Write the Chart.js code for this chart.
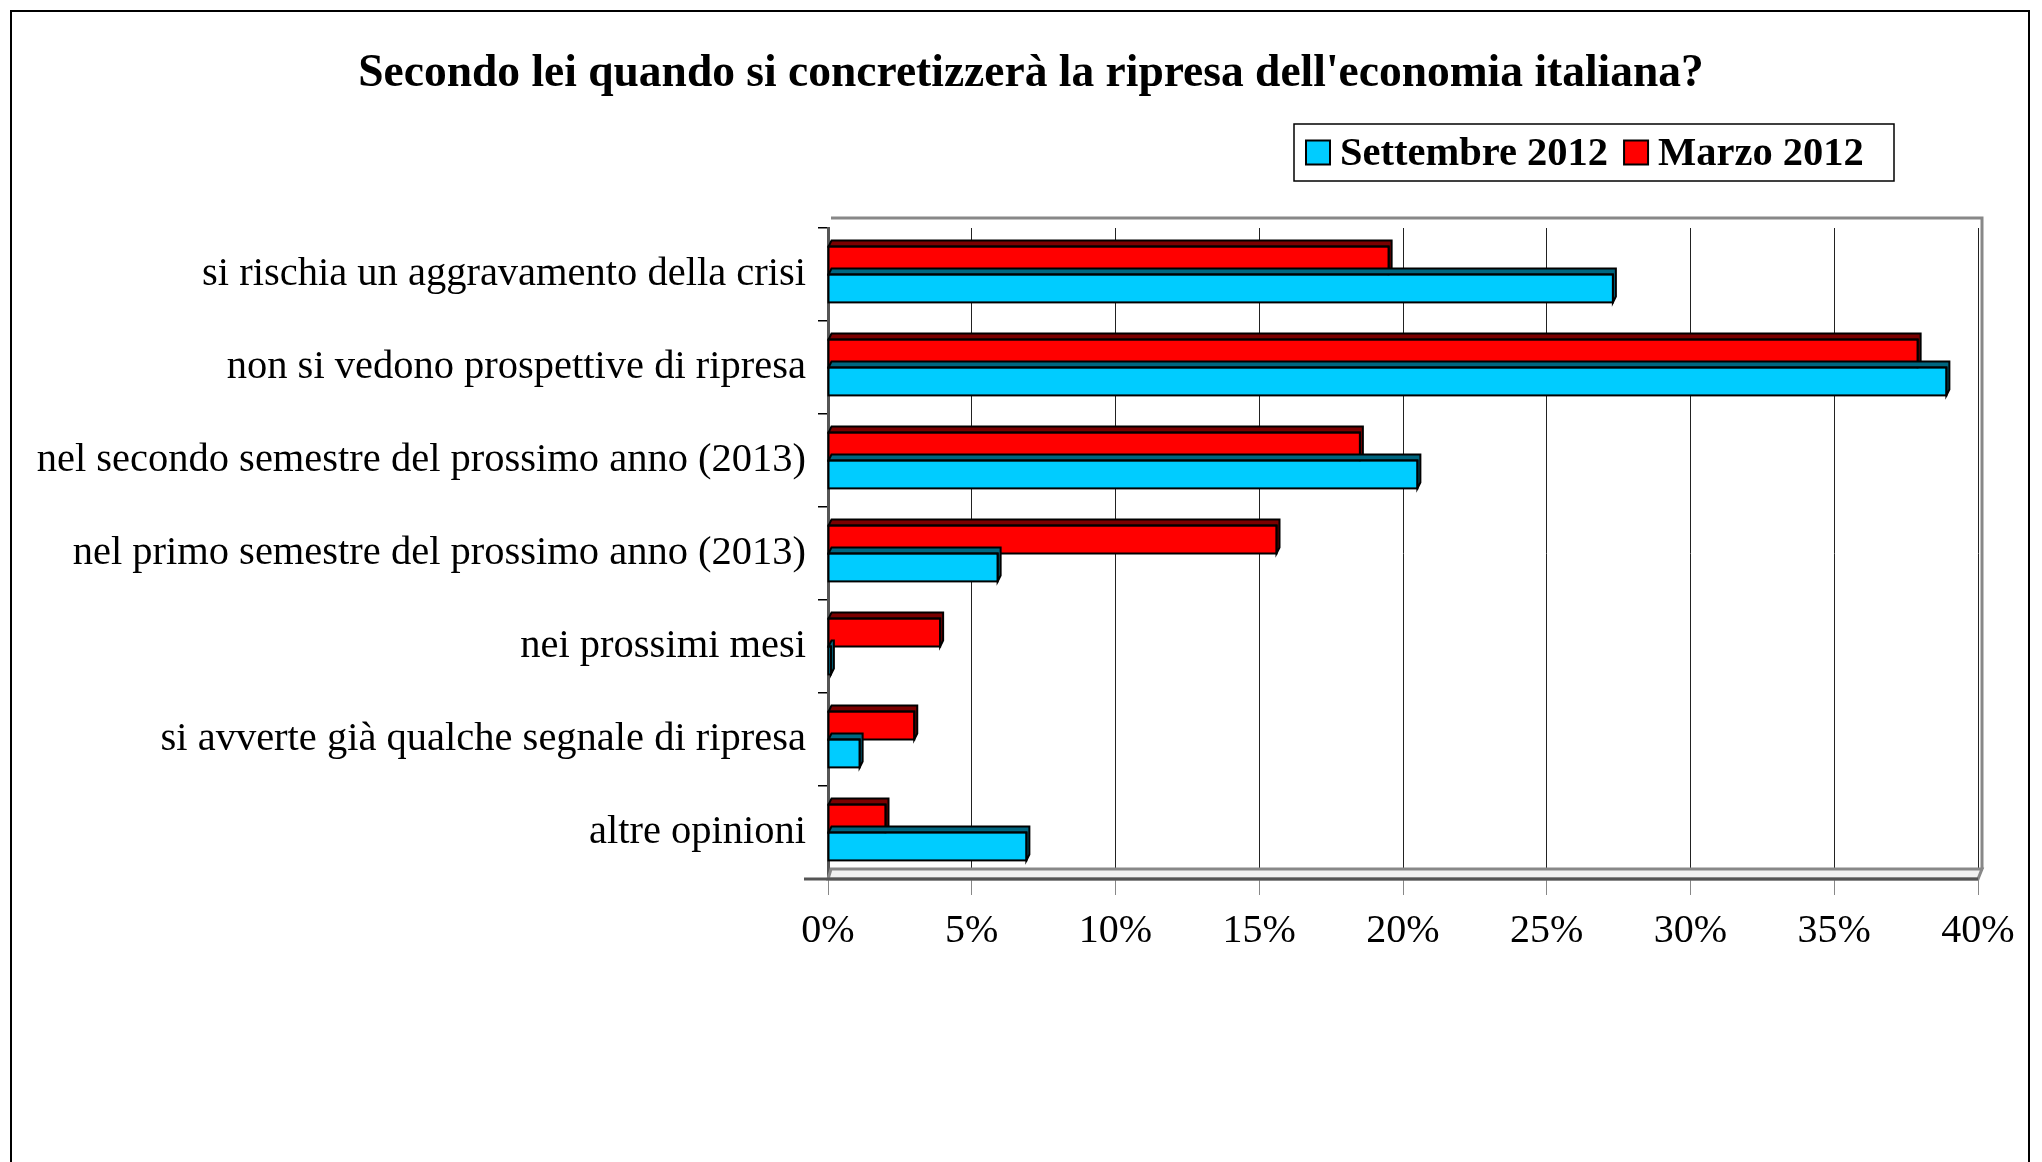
<!DOCTYPE html>
<html>
<head>
<meta charset="utf-8">
<script src="https://cdn.jsdelivr.net/npm/chart.js@4/dist/chart.umd.min.js"></script>
<style>
  html, body { margin: 0; padding: 0; background: #fff; }
  #wrap { width: 2042px; height: 1162px; }
</style>
</head>
<body>
<div id="wrap"><canvas id="c" width="2042" height="1162"></canvas></div>
<script>
const categories = [
    'si rischia un aggravamento della crisi',
    'non si vedono prospettive di ripresa',
    'nel secondo semestre del prossimo anno (2013)',
    'nel primo semestre del prossimo anno (2013)',
    'nei prossimi mesi',
    'si avverte già qualche segnale di ripresa',
    'altre opinioni'
];
const settembre2012 = [27.3, 38.9, 20.5, 5.9, 0.1, 1.1, 6.9];
const marzo2012 = [19.5, 37.9, 18.5, 15.6, 3.9, 3.0, 2.0];
const xTickValues = [0, 5, 10, 15, 20, 25, 30, 35, 40];
const chartTitle = "Secondo lei quando si concretizzerà la ripresa dell'economia italiana?";

const SERIF = "'Liberation Serif', 'Times New Roman', serif";

// frame, title, 3d floor, bar depth and boxed legend
const PluginFrame = {
    id: 'frame',
    beforeDraw(chart) {
        const ctx = chart.ctx;
        ctx.save();
        ctx.fillStyle = '#fff';
        ctx.fillRect(0, 0, chart.width, chart.height);
        ctx.strokeStyle = '#000';
        ctx.lineWidth = 2;
        ctx.strokeRect(11, 11, 2018, 1200);
        ctx.fillStyle = '#000';
        ctx.font = 'bold 45.5px ' + SERIF;
        ctx.textAlign = 'center';
        ctx.textBaseline = 'middle';
        ctx.fillText(chartTitle, 1031, 74);
        ctx.restore();
    },
    beforeDatasetsDraw(chart) {
        const {ctx, chartArea: {left, top, right, bottom}} = chart;
        ctx.save();
        // back wall edges
        ctx.strokeStyle = '#888';
        ctx.lineWidth = 3;
        ctx.beginPath();
        ctx.moveTo(left + 3, top - 10);
        ctx.lineTo(right + 4, top - 10);
        ctx.lineTo(right + 4, bottom - 10);
        ctx.stroke();
        // floor
        ctx.fillStyle = '#f2f2f2';
        ctx.beginPath();
        ctx.moveTo(left + 3, bottom - 10);
        ctx.lineTo(right + 4, bottom - 10);
        ctx.lineTo(right, bottom);
        ctx.lineTo(left, bottom);
        ctx.closePath();
        ctx.fill();
        ctx.lineWidth = 3;
        ctx.stroke();
        ctx.strokeStyle = '#555';
        ctx.beginPath();
        ctx.moveTo(left - 24, bottom);
        ctx.lineTo(right, bottom);
        ctx.stroke();
        ctx.restore();
    },
    afterDatasetsDraw(chart) {
        const ctx = chart.ctx;
        const dx = 3, dy = 6;
        ctx.save();
        chart.data.datasets.forEach((ds, i) => {
            const meta = chart.getDatasetMeta(i);
            meta.data.forEach(bar => {
                const t = bar.y - bar.height / 2;
                const b = bar.y + bar.height / 2;
                ctx.fillStyle = ds.depthColor;
                ctx.strokeStyle = '#000';
                ctx.lineWidth = 2;
                ctx.beginPath();
                ctx.moveTo(bar.base, t);
                ctx.lineTo(bar.base + dx, t - dy);
                ctx.lineTo(bar.x + dx, t - dy);
                ctx.lineTo(bar.x + dx, b - dy);
                ctx.lineTo(bar.x, b);
                ctx.lineTo(bar.x, t);
                ctx.closePath();
                ctx.fill();
                ctx.stroke();
                ctx.fillStyle = ds.backgroundColor;
                ctx.fillRect(bar.base + 1, t + 1, bar.x - bar.base - 2, b - t - 2);
                ctx.strokeRect(bar.base, t, bar.x - bar.base, b - t);
            });
        });
        ctx.restore();
    },
    afterDraw(chart) {
        // legend box, series in reverse order (Settembre first)
        const ctx = chart.ctx;
        const items = chart.data.datasets.slice().reverse();
        const boxX = 1294, boxY = 124, boxW = 600, boxH = 57;
        ctx.save();
        ctx.fillStyle = '#fff';
        ctx.fillRect(boxX, boxY, boxW, boxH);
        ctx.strokeStyle = '#000';
        ctx.lineWidth = 1.5;
        ctx.strokeRect(boxX, boxY, boxW, boxH);
        ctx.font = 'bold 40.5px ' + SERIF;
        ctx.textBaseline = 'middle';
        let x = boxX + 12;
        const cy = boxY + boxH / 2;
        items.forEach(ds => {
            ctx.fillStyle = ds.backgroundColor;
            ctx.fillRect(x, cy - 12, 24, 24);
            ctx.lineWidth = 2;
            ctx.strokeRect(x, cy - 12, 24, 24);
            x += 34;
            ctx.fillStyle = '#000';
            ctx.fillText(ds.label, x, cy + 2);
            x += ctx.measureText(ds.label).width + 16;
        });
        ctx.restore();
    }
};

const ChartData = {
    type: 'bar',
    plugins: [PluginFrame],
    data: {
        labels: categories,
        datasets: [
            {
                label: 'Marzo 2012',
                data: marzo2012,
                backgroundColor: '#FF0000',
                depthColor: '#7a0000',
                borderColor: '#000',
                borderWidth: 0,
                categoryPercentage: 0.6,
                barPercentage: 1.0
            },
            {
                label: 'Settembre 2012',
                data: settembre2012,
                backgroundColor: '#00CCFF',
                depthColor: '#006680',
                borderColor: '#000',
                borderWidth: 0,
                categoryPercentage: 0.6,
                barPercentage: 1.0
            }
        ]
    },
    options: {
        indexAxis: 'y',
        responsive: false,
        animation: false,
        devicePixelRatio: 1,
        layout: { padding: { left: 20, right: 64, top: 228, bottom: 195 } },
        plugins: {
            legend: { display: false },
            tooltip: { enabled: false },
            title: { display: false }
        },
        scales: {
            x: {
                min: 0,
                max: 40,
                afterBuildTicks(scale) {
                    scale.ticks = xTickValues.map(v => ({ value: v }));
                },
                ticks: {
                    callback: v => v + '%',
                    color: '#000',
                    font: { family: SERIF, size: 40 },
                    padding: 12,
                    maxRotation: 0
                },
                grid: { color: '#222', lineWidth: 1, tickLength: 16, tickColor: '#888' },
                border: { display: false }
            },
            y: {
                afterFit(scale) { scale.width = 808; },
                ticks: {
                    color: '#000',
                    font: { family: SERIF, size: 40.5 },
                    padding: 12
                },
                grid: { offset: true, drawOnChartArea: false, tickLength: 10, color: '#000', lineWidth: 1.5 },
                border: { color: '#555', width: 3 }
            }
        }
    }
};

const chart = new Chart(document.getElementById('c').getContext('2d'), ChartData);
</script>
</body>
</html>
